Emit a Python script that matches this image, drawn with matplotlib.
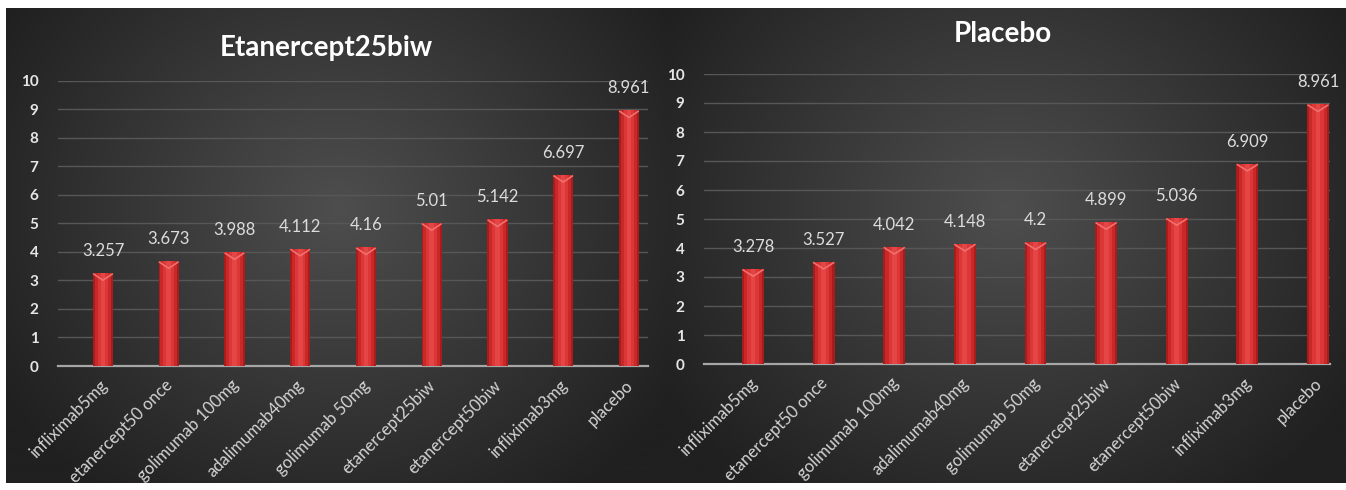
import numpy as np
import matplotlib
matplotlib.use("Agg")
import matplotlib.pyplot as plt

categories = ["infliximab5mg", "etanercept50 once", "golimumab 100mg", "adalimumab40mg",
              "golimumab 50mg", "etanercept25biw", "etanercept50biw", "infliximab3mg", "placebo"]
left_values = [3.257, 3.673, 3.988, 4.112, 4.16, 5.01, 5.142, 6.697, 8.961]
left_labels = ["3.257", "3.673", "3.988", "4.112", "4.16", "5.01", "5.142", "6.697", "8.961"]
right_values = [3.278, 3.527, 4.042, 4.148, 4.2, 4.899, 5.036, 6.909, 8.961]
right_labels = ["3.278", "3.527", "4.042", "4.148", "4.2", "4.899", "5.036", "6.909", "8.961"]
left_title = "Etanercept25biw"
right_title = "Placebo"
y_ticks = list(range(0, 11))

plt.rcParams['font.family'] = ['Lato', 'DejaVu Sans']

W, H = 1346, 490
fig = plt.figure(figsize=(W / 100, H / 100), dpi=100, facecolor="white")


def background(x0, x1, y0, y1):
    ax = fig.add_axes([x0 / W, 1 - y1 / H, (x1 - x0) / W, (y1 - y0) / H])
    ax.set_axis_off()
    ny, nx = 200, 300
    yy, xx = np.mgrid[0:ny, 0:nx]
    cx, cy = nx * 0.5, ny * 0.42
    r = np.sqrt(((xx - cx) / (nx * 0.6)) ** 2 + ((yy - cy) / (ny * 0.75)) ** 2)
    r = np.clip(r, 0, 1)
    c_in = np.array([0x4e, 0x4e, 0x4e]) / 255
    c_out = np.array([0x20, 0x20, 0x20]) / 255
    img = c_in[None, None, :] * (1 - r[..., None]) + c_out[None, None, :] * r[..., None]
    ax.imshow(img, aspect="auto", extent=[0, 1, 0, 1], interpolation="bilinear")
    ax.set_xlim(0, 1)
    ax.set_ylim(0, 1)


background(6, 668, 8, 483)
background(668, 1346, 8, 483)


def panel(rect, xlim, values, labels, title, title_xy):
    ax = fig.add_axes(rect)
    ax.patch.set_alpha(0)
    x = np.arange(len(categories))
    ax.set_xlim(*xlim)
    ax.set_ylim(0, 10)
    ax.set_yticks(y_ticks)
    ax.set_yticklabels([str(t) for t in y_ticks], color="#e6e6e6", fontsize=11, fontweight="bold")
    ax.grid(axis="y", color="#575757", linewidth=1.0)
    ax.set_axisbelow(True)
    for s in ["top", "right", "left"]:
        ax.spines[s].set_visible(False)
    ax.spines["bottom"].set_color("#a6a6a6")
    ax.spines["bottom"].set_linewidth(1.6)
    ax.tick_params(axis="both", length=0)
    ax.tick_params(axis="y", pad=14)
    ax.tick_params(axis="x", pad=8)
    # bars with a simple horizontal shading
    ax.bar(x, values, width=0.31, color="#a81c1c", zorder=3)
    ax.bar(x, values, width=0.25, color="#c82828", zorder=4)
    ax.bar(x, values, width=0.16, color="#dc3636", zorder=5)
    ax.bar(x, values, width=0.07, color="#e44646", zorder=6)
    for xi, v in zip(x, values):
        ax.plot([xi - 0.15, xi, xi + 0.15], [v - 0.02, v - 0.25, v - 0.02],
                color="#f07070", lw=1.2, zorder=7, solid_capstyle="butt")
    for xi, v, lab in zip(x, values, labels):
        ax.annotate(lab, (xi, v), xytext=(0, 10), textcoords="offset points",
                    ha="center", va="bottom", color="#dcdcdc", fontsize=12)
    ax.set_xticks(x)
    ax.set_xticklabels(categories, rotation=45, ha="right", va="top",
                       rotation_mode="anchor", color="#d4d4d4", fontsize=12)
    for t in ax.get_xticklabels():
        t.set_transform(t.get_transform() + matplotlib.transforms.ScaledTranslation(-3 / 72, 0, fig.dpi_scale_trans))
    fig.text(title_xy[0] / W, 1 - title_xy[1] / H, title, ha="center", va="center",
             color="white", fontsize=20, fontweight="bold")
    return ax


panel([58 / W, 1 - 366 / H, 590 / W, 285.3 / H], (-0.684, 8.29),
      left_values, left_labels, left_title, (326, 48))
panel([704 / W, 1 - 364 / H, 626 / W, 290 / H], (-0.694, 8.17),
      right_values, right_labels, right_title, (1003, 34))

fig.savefig("out.png", dpi=100, facecolor="white")
